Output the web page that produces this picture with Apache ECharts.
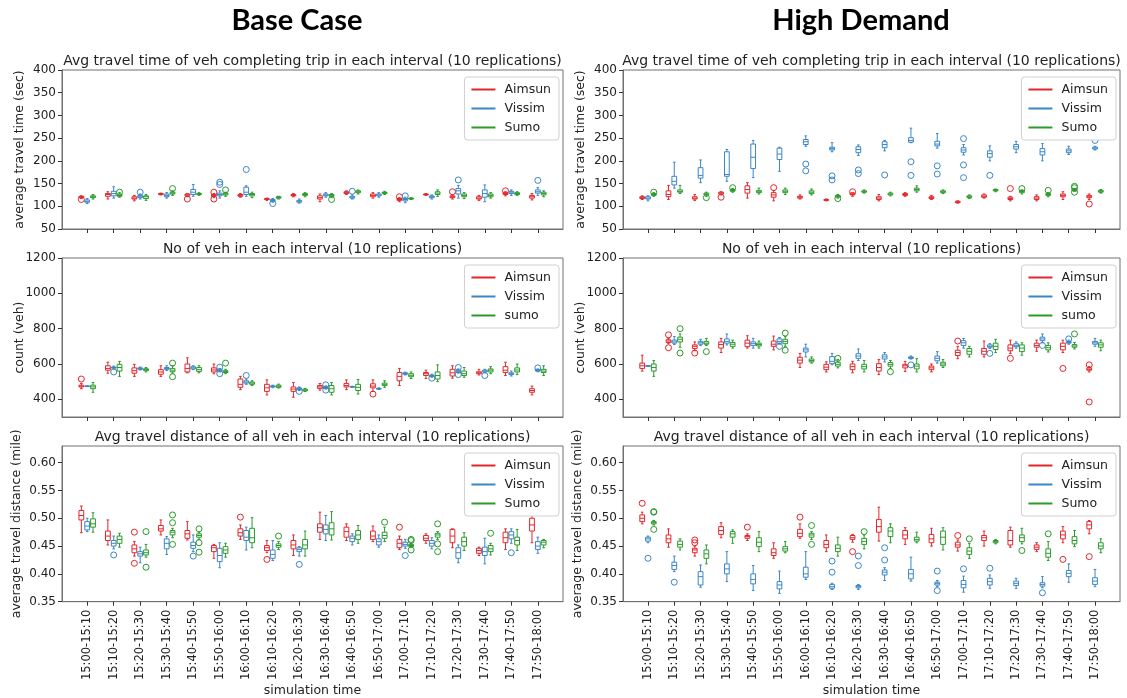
<!DOCTYPE html>
<html>
<head>
<meta charset="utf-8">
<script src="https://cdn.jsdelivr.net/npm/echarts@6.0.0/dist/echarts.min.js"></script>
<style>
  html, body { margin: 0; padding: 0; background: #fff; }
  #main { width: 1127px; height: 698px; }
</style>
</head>
<body>
<div id="main"></div>
<script>
// each row: [min, q1, median, q3, max, ...outliers]
var cats = ['15:00-15:10', '15:10-15:20', '15:20-15:30', '15:30-15:40', '15:40-15:50', '15:50-16:00',
  '16:00-16:10', '16:10-16:20', '16:20-16:30', '16:30-16:40', '16:40-16:50', '16:50-17:00',
  '17:00-17:10', '17:10-17:20', '17:20-17:30', '17:30-17:40', '17:40-17:50', '17:50-18:00']

var timeTicks = [50, 100, 150, 200, 250, 300, 350, 400]
var countTicks = [400, 600, 800, 1000, 1200]
var distTicks = [0.35, 0.40, 0.45, 0.50, 0.55, 0.60]

// Base Case - travel time
var baseTimeAimsun = [[117,119,120,122,123,115],[116,122,126,128,132],[112,116,118,121,124],[125,126,127,128,129],
  [121,123,125,127,128,116],[119,122,124,126,128,131,116],[120,122,124,126,128],[113,115,116,117,118],
  [121,123,124,126,128],[110,116,119,123,127],[126,128,130,132,134],[118,121,124,127,130],
  [110,113,115,117,119,121],[124,125,126,127,128],[116,119,121,123,125,132],[113,116,118,121,124],
  [123,126,128,130,132,134],[114,118,121,124,128]]
var baseTimeVissim = [[106,109,111,114,117],[118,123,128,133,143],[116,119,121,124,127,131],[118,121,124,127,130],
  [122,126,131,137,148],[118,123,126,129,134,148,153],[122,126,131,142,145,181],[109,111,113,115,117,106],
  [107,109,111,113,116],[120,123,125,127,130],[116,118,120,122,125,133],[120,123,125,127,130],
  [108,112,115,117,120,123],[116,119,121,123,125],[118,127,134,139,146,158],[110,120,128,136,147],
  [124,128,131,133,136],[124,129,132,136,141,157]]
var baseTimeSumo = [[116,119,121,123,126],[120,122,124,127,130,131],[113,117,121,123,126],[124,127,129,131,134,139],
  [124,126,127,128,130],[122,125,127,129,131,136],[119,123,126,128,131],[116,118,119,121,122],
  [121,124,126,128,130],[119,122,124,126,128,115],[127,130,132,134,136],[126,128,130,131,133],
  [115,116,117,118,119],[122,126,129,132,136],[117,121,124,127,130],[118,121,124,127,130],
  [124,126,128,130,132],[121,125,128,131,134]]

// High Demand - travel time
var highTimeAimsun = [[115,117,119,121,123],[115,121,126,134,146],[113,116,118,121,126],[125,127,129,131,132,120],
  [118,129,137,145,152],[112,120,125,130,135,141],[116,118,120,122,125],[112,113,114,115,116],
  [122,125,127,129,130,132],[112,115,118,121,126],[122,124,126,128,130],[115,117,119,121,124],
  [107,108,109,111,112],[118,120,122,125,127],[112,115,117,120,122,139],[112,115,118,121,125],
  [115,121,124,127,132],[115,119,121,124,127,105]]
var highTimeVissim = [[112,116,118,121,123],[140,147,155,166,197],[152,162,168,185,202],[155,166,170,220,225],
  [163,183,208,237,245],[177,203,215,228,230],[232,236,242,247,255,193,178],[220,224,227,230,240,167,158],
  [212,218,225,231,235,180,172],[222,229,236,242,245,169],[240,241,245,251,272,198,168],[228,233,237,243,260,189,171],
  [213,219,224,229,236,249,191,163],[200,208,216,222,233,168],[218,226,231,236,243],[200,213,220,227,238],
  [214,218,222,226,232],[224,226,228,230,232,245]]
var highTimeSumo = [[122,124,126,128,130,131],[128,131,133,136,146],[122,125,127,129,131,119],[131,133,135,137,139,141],
  [127,130,132,135,140],[126,130,133,136,140],[125,128,131,134,138],[118,120,122,124,126,117],
  [129,131,132,134,136],[123,125,127,129,131],[131,134,137,140,145],[128,130,132,134,136],
  [117,119,121,123,125],[132,134,135,137,138],[127,130,133,135,136,139],[121,124,126,128,130,135],
  [133,134,136,138,139,144,141,131],[129,131,133,135,137]]

// Base Case - vehicle count
var baseCountAimsun = [[460,470,475,480,490,515],[548,565,575,590,610],[530,548,562,578,598],[530,542,555,568,590],
  [550,555,575,600,635],[545,555,566,578,600],[455,468,485,515,530],[425,445,465,485,510],
  [412,445,458,470,495],[452,462,470,478,490],[455,470,478,490,510],[445,465,475,488,510,430],
  [478,505,530,552,575],[518,535,545,552,565],[520,532,550,570,590],[538,545,550,556,570],
  [535,552,565,585,610],[425,440,450,460,475]]
var baseCountVissim = [[475,475,475,475,475],[572,577,580,583,588,555],[566,570,574,578,583],[563,570,575,580,590],
  [568,572,578,584,590],[555,560,565,570,575,582,545],[485,492,498,505,515,535],[466,470,473,476,480],
  [450,455,460,465,470,445],[458,462,467,472,476,482,452],[468,470,471,472,474],[456,458,460,462,465],
  [538,542,546,550,554],[525,530,533,537,542,520],[548,553,560,566,572,580,540],[550,555,560,565,570,535],
  [532,540,545,550,560],[556,560,565,568,572,578]]
var baseCountSumo = [[440,460,470,480,495],[530,560,580,598,615],[555,562,568,573,580],[548,556,565,575,590,605,528],
  [550,558,568,580,590],[545,552,557,562,570,605],[478,485,492,498,505],[464,468,474,480,486],
  [444,448,452,457,462],[425,440,460,478,495],[430,450,468,485,512],[468,478,485,492,505],
  [518,528,536,545,555],[500,515,535,555,595],[525,535,545,560,580],[545,555,565,572,585],
  [540,555,566,578,600],[535,552,560,570,590]]

// High Demand - vehicle count
var highCountAimsun = [[560,575,590,605,650],[715,722,730,737,745,765,692],[675,688,700,708,725,662],[665,690,710,725,745],
  [690,698,718,735,760],[680,700,712,730,758],[580,605,622,638,660],[555,568,582,598,612],
  [550,568,585,600,615],[540,560,580,602,625],[558,578,590,598,615],[555,568,578,588,600],
  [630,648,665,678,700,730],[640,655,672,688,730],[660,675,690,708,735,632],[672,695,705,718,735],
  [665,680,700,718,735,575],[555,565,570,578,585,595,385]]
var highCountVissim = [[590,590,590,590,590],[710,718,725,735,755],[705,712,720,728,740],[708,718,728,742,770],
  [690,705,715,725,745],[712,718,728,742,750,700],[640,668,680,690,712],[596,602,615,642,660],
  [620,632,645,658,685],[612,628,640,652,665],[628,632,636,640,645,595],[605,618,632,645,670],
  [690,705,720,732,745],[688,695,700,708,715,660],[690,698,706,715,725],[720,732,742,752,770,705],
  [712,718,722,728,735,742],[700,712,720,728,745]]
var highCountSumo = [[530,560,580,600,620],[695,725,740,752,770,800,662],[705,712,718,728,745,670],[690,700,712,722,735],
  [690,702,710,718,730],[700,715,728,740,755,775,678],[605,612,620,628,640],[578,588,598,610,625,632],
  [555,572,585,598,620],[575,588,598,608,620,556],[555,572,588,600,630],[580,590,600,610,625],
  [640,655,672,688,700],[665,682,700,718,740],[650,670,690,708,720],[668,680,692,705,720],
  [685,695,702,710,722,770],[675,695,708,720,735]]

// Base Case - travel distance
var baseDistAimsun = [[0.474,0.497,0.505,0.514,0.522],[0.452,0.460,0.468,0.477,0.497],[0.432,0.438,0.445,0.452,0.458,0.475,0.419],
  [0.470,0.477,0.481,0.487,0.497],[0.461,0.464,0.472,0.478,0.494],[0.428,0.440,0.447,0.451,0.453],
  [0.462,0.468,0.474,0.481,0.488,0.502],[0.438,0.442,0.447,0.451,0.460,0.426],[0.433,0.445,0.452,0.460,0.470],
  [0.462,0.475,0.483,0.490,0.511],[0.460,0.466,0.476,0.484,0.490],[0.458,0.462,0.468,0.477,0.486],
  [0.444,0.447,0.455,0.462,0.468,0.484],[0.455,0.460,0.464,0.469,0.472],[0.447,0.456,0.468,0.480,0.481],
  [0.433,0.437,0.442,0.446,0.448],[0.444,0.456,0.465,0.475,0.481],[0.456,0.477,0.488,0.500,0.505]]
var baseDistVissim = [[0.476,0.479,0.486,0.494,0.500],[0.445,0.450,0.455,0.460,0.468,0.434],[0.420,0.432,0.436,0.440,0.448],
  [0.435,0.445,0.455,0.463,0.467],[0.440,0.446,0.451,0.457,0.470,0.432],[0.411,0.422,0.433,0.446,0.456],
  [0.443,0.460,0.466,0.478,0.484],[0.424,0.428,0.435,0.443,0.460],[0.432,0.440,0.444,0.447,0.449,0.417],
  [0.460,0.472,0.480,0.488,0.505],[0.452,0.458,0.464,0.468,0.472],[0.448,0.452,0.458,0.463,0.470],
  [0.446,0.450,0.453,0.457,0.462,0.433],[0.445,0.450,0.455,0.460,0.465],[0.420,0.428,0.438,0.447,0.452],
  [0.418,0.433,0.440,0.448,0.464],[0.455,0.463,0.470,0.476,0.481,0.438],[0.437,0.444,0.450,0.458,0.466]]
var baseDistSumo = [[0.475,0.484,0.490,0.499,0.510],[0.448,0.455,0.462,0.468,0.473],[0.430,0.434,0.438,0.443,0.453,0.476,0.412],
  [0.465,0.470,0.475,0.478,0.482,0.506,0.492,0.453],[0.462,0.466,0.469,0.472,0.475,0.481,0.456,0.439],[0.430,0.437,0.443,0.449,0.455],
  [0.447,0.456,0.465,0.482,0.501],[0.444,0.448,0.451,0.454,0.458,0.468],[0.432,0.445,0.452,0.462,0.477],
  [0.461,0.470,0.481,0.492,0.512],[0.455,0.462,0.470,0.478,0.487],[0.458,0.464,0.469,0.475,0.484,0.493],
  [0.448,0.449,0.451,0.453,0.455,0.462,0.460,0.443],[0.462,0.466,0.470,0.473,0.476,0.490,0.454,0.440],[0.442,0.450,0.458,0.466,0.474],
  [0.434,0.440,0.445,0.451,0.455,0.473],[0.442,0.452,0.460,0.466,0.480],[0.447,0.452,0.457,0.460,0.462]]

// High Demand - travel distance
var highDistAimsun = [[0.490,0.494,0.500,0.506,0.511,0.527],[0.448,0.456,0.463,0.470,0.481],[0.432,0.438,0.443,0.446,0.450,0.461,0.456],
  [0.465,0.471,0.478,0.485,0.492],[0.460,0.464,0.467,0.469,0.472,0.484],[0.428,0.433,0.438,0.445,0.456],
  [0.464,0.467,0.473,0.480,0.490,0.502],[0.440,0.447,0.453,0.460,0.470],[0.457,0.462,0.465,0.469,0.471,0.440],
  [0.459,0.475,0.485,0.498,0.520],[0.453,0.463,0.470,0.478,0.483],[0.450,0.456,0.463,0.471,0.482],
  [0.441,0.448,0.452,0.457,0.461,0.469],[0.450,0.460,0.465,0.469,0.477],[0.448,0.452,0.460,0.478,0.484],
  [0.440,0.444,0.448,0.452,0.456],[0.456,0.463,0.470,0.477,0.485,0.426],[0.472,0.481,0.488,0.494,0.496,0.431]]
var highDistVissim = [[0.456,0.459,0.463,0.466,0.468,0.428],[0.404,0.408,0.415,0.421,0.432,0.385],[0.376,0.380,0.395,0.404,0.416],
  [0.386,0.400,0.409,0.418,0.440],[0.370,0.382,0.390,0.400,0.415],[0.365,0.373,0.380,0.386,0.405],
  [0.390,0.394,0.400,0.412,0.440],[0.372,0.374,0.377,0.381,0.383,0.423,0.403],[0.372,0.375,0.377,0.379,0.381,0.432,0.415],
  [0.388,0.398,0.403,0.407,0.411,0.447,0.425],[0.387,0.391,0.400,0.408,0.430],[0.377,0.380,0.383,0.385,0.388,0.405,0.370],
  [0.367,0.375,0.381,0.388,0.396,0.409],[0.374,0.380,0.386,0.392,0.398,0.410],[0.374,0.379,0.383,0.387,0.392],
  [0.375,0.378,0.381,0.384,0.395,0.366],[0.385,0.395,0.401,0.406,0.418],[0.377,0.381,0.387,0.393,0.408]]
var highDistSumo = [[0.488,0.490,0.492,0.494,0.496,0.512,0.511,0.480],[0.443,0.448,0.453,0.459,0.463],[0.418,0.428,0.436,0.443,0.452],
  [0.455,0.466,0.472,0.476,0.479],[0.440,0.449,0.457,0.465,0.476],[0.438,0.441,0.445,0.449,0.458],
  [0.462,0.466,0.470,0.473,0.476,0.487,0.453],[0.432,0.440,0.446,0.452,0.466],[0.445,0.453,0.458,0.464,0.470,0.476],
  [0.456,0.467,0.477,0.483,0.490],[0.456,0.459,0.462,0.466,0.475],[0.443,0.453,0.466,0.477,0.483],
  [0.428,0.435,0.441,0.447,0.455,0.463],[0.454,0.456,0.458,0.460,0.462],[0.454,0.458,0.465,0.470,0.482,0.442],
  [0.424,0.430,0.437,0.445,0.458,0.472],[0.449,0.454,0.460,0.467,0.478],[0.438,0.445,0.450,0.456,0.463]]

var colors = ['#e3262b', '#3b86c6', '#2a9a2a']
var offsets = [-0.22, 0, 0.22]
var textColor = '#222'
var frameColor = '#707070'

var panels = [
  { col: 0, row: 0, sets: [baseTimeAimsun, baseTimeVissim, baseTimeSumo], names: ['Aimsun', 'Vissim', 'Sumo'],
    title: 'Avg travel time of veh completing trip in each interval (10 replications)', yName: 'average travel time (sec)' },
  { col: 1, row: 0, sets: [highTimeAimsun, highTimeVissim, highTimeSumo], names: ['Aimsun', 'Vissim', 'Sumo'],
    title: 'Avg travel time of veh completing trip in each interval (10 replications)', yName: 'average travel time (sec)' },
  { col: 0, row: 1, sets: [baseCountAimsun, baseCountVissim, baseCountSumo], names: ['Aimsun', 'Vissim', 'sumo'],
    title: 'No of veh in each interval (10 replications)', yName: 'count (veh)' },
  { col: 1, row: 1, sets: [highCountAimsun, highCountVissim, highCountSumo], names: ['Aimsun', 'Vissim', 'sumo'],
    title: 'No of veh in each interval (10 replications)', yName: 'count (veh)' },
  { col: 0, row: 2, sets: [baseDistAimsun, baseDistVissim, baseDistSumo], names: ['Aimsun', 'Vissim', 'Sumo'],
    title: 'Avg travel distance of all veh in each interval (10 replications)', yName: 'average travel distance (mile)' },
  { col: 1, row: 2, sets: [highDistAimsun, highDistVissim, highDistSumo], names: ['Aimsun', 'Vissim', 'Sumo'],
    title: 'Avg travel distance of all veh in each interval (10 replications)', yName: 'average travel distance (mile)' }
]

var colLeft = [62, 623]
var colWidth = [501, 497]
var rowTop = [70, 258, 446]
var rowHeight = 159
var yRanges = [
  { min: 50, max: 400, ticks: timeTicks, gap: 36, fmt: function (v) { return v } },
  { min: 300, max: 1200, ticks: countTicks, gap: 36, fmt: function (v) { return v } },
  { min: 0.35, max: 0.63, ticks: distTicks, gap: 39, fmt: function (v) { return v.toFixed(2) } }
]
var idx = cats.map(function (c, i) { return i })

function boxRenderer(off, color) {
  return function (params, api) {
    var x = api.value(0)
    var band = api.size([1, 0])[0]
    var cx = api.coord([x, 0])[0] + off * band
    var hw = band * 0.09
    var cw = hw * 0.55
    var y = [1, 2, 3, 4, 5].map(function (d) { return api.coord([x, api.value(d)])[1] })
    var st = { stroke: color, lineWidth: 1, fill: null }
    return {
      type: 'group',
      children: [
        { type: 'line', shape: { x1: cx, y1: y[0], x2: cx, y2: y[1] }, style: st },
        { type: 'line', shape: { x1: cx, y1: y[3], x2: cx, y2: y[4] }, style: st },
        { type: 'line', shape: { x1: cx - cw, y1: y[0], x2: cx + cw, y2: y[0] }, style: st },
        { type: 'line', shape: { x1: cx - cw, y1: y[4], x2: cx + cw, y2: y[4] }, style: st },
        { type: 'rect', shape: { x: cx - hw, y: y[3], width: hw * 2, height: Math.max(y[1] - y[3], 0.5) }, style: st },
        { type: 'line', shape: { x1: cx - hw, y1: y[2], x2: cx + hw, y2: y[2] }, style: st }
      ]
    }
  }
}

function outlierRenderer(off, color) {
  return function (params, api) {
    var x = api.value(0)
    var band = api.size([1, 0])[0]
    var p = api.coord([x, api.value(1)])
    return {
      type: 'circle',
      shape: { cx: p[0] + off * band, cy: p[1], r: 3 },
      style: { stroke: color, lineWidth: 1, fill: null }
    }
  }
}

var grids = [], xAxes = [], yAxes = [], series = [], legends = [], texts = []

panels.forEach(function (p, k) {
  var yr = yRanges[p.row]
  var last = p.row === 2
  grids.push({
    left: colLeft[p.col], top: rowTop[p.row], width: colWidth[p.col], height: rowHeight,
    show: true, borderColor: frameColor, borderWidth: 1, backgroundColor: 'transparent'
  })
  xAxes.push({
    type: 'value', gridIndex: k, min: -0.95, max: 17.95,
    name: last ? 'simulation time' : '', nameLocation: 'middle', nameGap: 80,
    nameTextStyle: { color: textColor, fontSize: 12.5, fontFamily: 'DejaVu Sans' },
    axisLine: { show: true, onZero: false, lineStyle: { color: frameColor } },
    axisTick: { show: true, length: 4, customValues: idx, lineStyle: { color: '#333' } },
    axisLabel: {
      show: last, customValues: idx, rotate: 90, fontSize: 11.5, color: textColor, fontFamily: 'DejaVu Sans',
      formatter: function (v) { return cats[Math.round(v)] }
    },
    splitLine: { show: false }
  })
  yAxes.push({
    type: 'value', gridIndex: k, min: yr.min, max: yr.max,
    name: p.yName, nameLocation: 'middle', nameGap: yr.gap, nameMoveOverlap: false,
    nameTextStyle: { color: textColor, fontSize: 12.5, fontFamily: 'DejaVu Sans' },
    axisLine: { show: true, onZero: false, lineStyle: { color: frameColor } },
    axisTick: { show: true, length: 4, customValues: yr.ticks, lineStyle: { color: '#333' } },
    axisLabel: { customValues: yr.ticks, fontSize: 12, color: textColor, fontFamily: 'DejaVu Sans', margin: 6, formatter: yr.fmt },
    splitLine: { show: false }
  })
  p.sets.forEach(function (rows, s) {
    series.push({
      type: 'custom', name: p.names[s], xAxisIndex: k, yAxisIndex: k,
      itemStyle: { color: colors[s] },
      renderItem: boxRenderer(offsets[s], colors[s]),
      encode: { x: 0, y: [1, 2, 3, 4, 5] },
      data: rows.map(function (r, i) { return [i, r[0], r[1], r[2], r[3], r[4]] }),
      silent: true, z: 3
    })
    var outs = []
    rows.forEach(function (r, i) {
      r.slice(5).forEach(function (v) { outs.push([i, v]) })
    })
    series.push({
      type: 'custom', name: p.names[s], xAxisIndex: k, yAxisIndex: k,
      itemStyle: { color: colors[s] },
      renderItem: outlierRenderer(offsets[s], colors[s]),
      encode: { x: 0, y: 1 },
      data: outs, silent: true, z: 3
    })
  })
  var legendTop = rowTop[p.row] + 7
  legends.push({
    orient: 'vertical',
    right: p.col === 0 ? 1127 - colLeft[0] - colWidth[0] + 4 : 1127 - colLeft[1] - colWidth[1] + 4,
    top: legendTop,
    padding: [6, 8, 6, 7], itemGap: 6, itemWidth: 24, itemHeight: 2,
    backgroundColor: '#fff', borderColor: '#d0d0d0', borderWidth: 1, borderRadius: 3,
    selectedMode: false,
    textStyle: { color: textColor, fontSize: 12.5, fontFamily: 'DejaVu Sans', padding: [0, 0, 0, 4] },
    data: p.names.map(function (n, s) { return { name: n, icon: 'rect', itemStyle: { color: colors[s] } } })
  })
  texts.push({
    type: 'text',
    x: colLeft[p.col] + colWidth[p.col] / 2, y: rowTop[p.row] - 9,
    style: { text: p.title, fill: textColor, font: '14px "DejaVu Sans"', align: 'center', verticalAlign: 'middle' }
  })
})

texts.push({ type: 'text', x: 297, y: 21,
  style: { text: 'Base Case', fill: '#000', font: 'bold 29px Lato', align: 'center', verticalAlign: 'middle' } })
texts.push({ type: 'text', x: 861, y: 21,
  style: { text: 'High Demand', fill: '#000', font: 'bold 29px Lato', align: 'center', verticalAlign: 'middle' } })

var myChart = echarts.init(document.getElementById('main'), null, { renderer: 'canvas' })
myChart.setOption({
  animation: false,
  backgroundColor: '#fff',
  grid: grids,
  xAxis: xAxes,
  yAxis: yAxes,
  legend: legends,
  graphic: texts,
  series: series
})
</script>
</body>
</html>
